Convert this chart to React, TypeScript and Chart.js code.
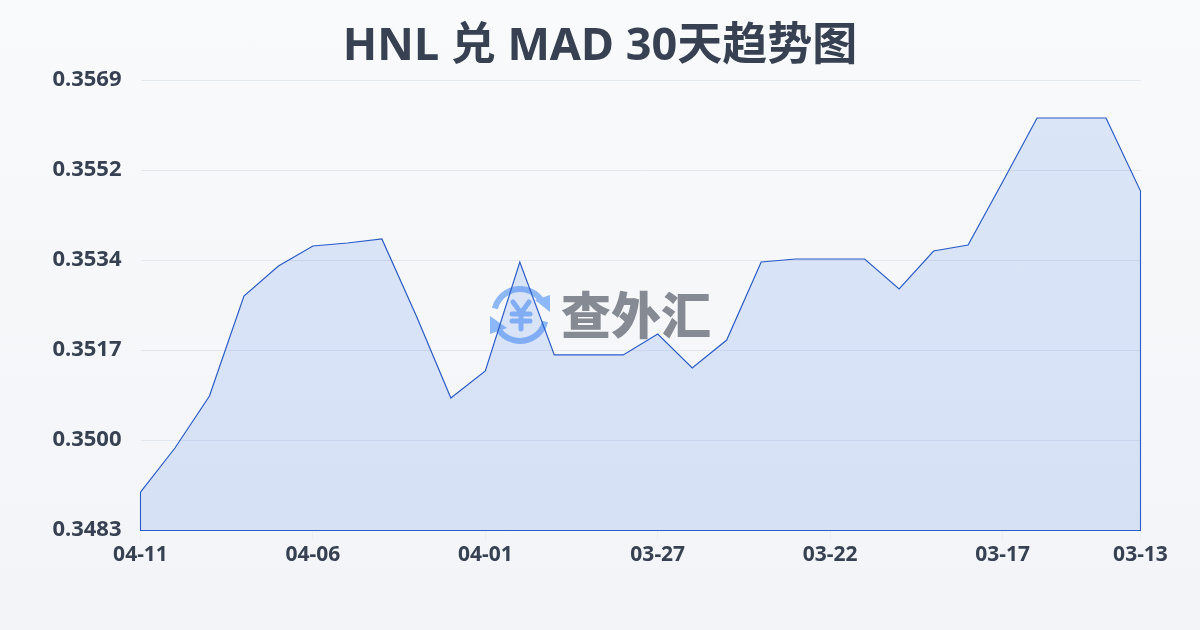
import React, { useEffect, useRef } from "react";
import { Chart, registerables } from "chart.js";

Chart.register(...registerables);

const FONT = '"Noto Sans", "Noto Sans CJK SC", sans-serif';
const titleText = "HNL 兑 MAD 30天趋势图";
const watermarkText = "查外汇";
const categories = [
  "04-11","04-10","04-09","04-08","04-07","04-06","04-05","04-04","04-03","04-02",
  "04-01","03-31","03-30","03-29","03-28","03-27","03-26","03-25","03-24","03-23",
  "03-22","03-21","03-20","03-19","03-18","03-17","03-16","03-15","03-14","03-13",
];
const rates = [
  0.349026,0.349867,0.350861,0.352772,0.353345,0.353728,0.353785,0.353861,0.35239,0.350823,
  0.351339,0.353422,0.351645,0.351645,0.351645,0.352046,0.351396,0.351931,0.353422,0.353479,
  0.353479,0.353479,0.352906,0.353632,0.353747,0.354951,0.356174,0.356174,0.356174,0.354779,
];
const yTickValues = [0.3483, 0.35002, 0.35174, 0.35346, 0.35518, 0.3569];
const yTickLabels = ["0.3483", "0.3500", "0.3517", "0.3534", "0.3552", "0.3569"];
const xTickLabels = ["04-11", "04-06", "04-01", "03-27", "03-22", "03-17", "03-13"];

const LINE = "#2a5cc6";

const watermark = {
  id: "watermark",
  beforeDatasetsDraw(chart: any) {
    const { ctx } = chart;
    ctx.save();
    const cx = 520, cy = 315, r = 26;
    ctx.strokeStyle = "#8db8f7";
    ctx.fillStyle = "#8db8f7";
    ctx.lineWidth = 6;
    ctx.beginPath();
    ctx.arc(cx, cy, r, Math.PI * 1.08, Math.PI * 1.8);
    ctx.stroke();
    ctx.beginPath();
    ctx.arc(cx, cy, r, Math.PI * 0.08, Math.PI * 0.8);
    ctx.stroke();
    ctx.beginPath();
    ctx.moveTo(535, 300); ctx.lineTo(550, 295); ctx.lineTo(550, 312); ctx.closePath();
    ctx.fill();
    ctx.beginPath();
    ctx.moveTo(490, 316); ctx.lineTo(490, 334); ctx.lineTo(507, 328); ctx.closePath();
    ctx.fill();
    ctx.lineWidth = 5;
    ctx.lineCap = "round";
    ctx.beginPath();
    ctx.moveTo(513, 302); ctx.lineTo(521, 313); ctx.lineTo(529, 302);
    ctx.moveTo(521, 313); ctx.lineTo(521, 329);
    ctx.moveTo(512, 314); ctx.lineTo(530, 314);
    ctx.moveTo(512, 321); ctx.lineTo(530, 321);
    ctx.stroke();
    ctx.fillStyle = "#858a93";
    ctx.font = `900 50px "Noto Sans CJK SC", sans-serif`;
    ctx.textAlign = "left";
    ctx.textBaseline = "middle";
    ctx.fillText(watermarkText, 561, 315);
    ctx.restore();
  },
};

const closeArea = {
  id: "closeArea",
  afterDatasetsDraw(chart: any) {
    const { ctx, scales } = chart;
    const x = scales.x, y = scales.y;
    const last = rates.length - 1;
    const base = y.getPixelForValue(yTickValues[0]);
    ctx.save();
    ctx.strokeStyle = LINE;
    ctx.lineWidth = 1.1;
    ctx.beginPath();
    ctx.moveTo(x.getPixelForValue(0), y.getPixelForValue(rates[0]));
    ctx.lineTo(x.getPixelForValue(0), base + 0.5);
    ctx.lineTo(x.getPixelForValue(last), base + 0.5);
    ctx.lineTo(x.getPixelForValue(last), y.getPixelForValue(rates[last]));
    ctx.stroke();
    ctx.restore();
  },
};

export default function App() {
  const ref = useRef<HTMLCanvasElement>(null);
  useEffect(() => {
    document.body.style.margin = "0";
    const chart = new Chart(ref.current!, {
      type: "line",
      data: {
        labels: categories,
        datasets: [
          {
            data: rates,
            borderColor: LINE,
            borderWidth: 1.2,
            backgroundColor: "rgba(59,117,235,0.15)",
            fill: "start",
            tension: 0,
            pointRadius: 0,
          },
        ],
      },
      plugins: [watermark, closeArea],
      options: {
        responsive: false,
        animation: false,
        layout: { padding: 0 },
        plugins: {
          legend: { display: false },
          tooltip: { enabled: false },
          title: {
            display: true,
            text: titleText,
            color: "#374151",
            font: { family: FONT, size: 45, weight: "700", lineHeight: 1.2 },
            padding: { top: 20, bottom: 6 },
          },
        },
        scales: {
          x: {
            type: "category",
            offset: false,
            border: { display: false },
            grid: {
              display: true,
              drawOnChartArea: false,
              drawTicks: true,
              tickLength: 10,
              tickWidth: 1,
              tickColor: (c: any) =>
                xTickLabels.includes(categories[c.index]) ? "#eceef1" : "rgba(0,0,0,0)",
            },
            afterFit(s: any) { s.height = 100; },
            ticks: {
              autoSkip: false,
              maxRotation: 0,
              padding: 2,
              color: "#374151",
              font: { family: FONT, size: 21, weight: "700" },
              callback(_: any, i: number) {
                const l = categories[i];
                return xTickLabels.includes(l) ? l : "";
              },
            },
          },
          y: {
            min: yTickValues[0],
            max: yTickValues[yTickValues.length - 1],
            border: { display: false },
            grid: { color: "#e3e7ee", lineWidth: 1, drawTicks: false },
            afterFit(s: any) { s.width = 140.5; },
            afterBuildTicks(s: any) { s.ticks = yTickValues.map((value) => ({ value })); },
            ticks: {
              padding: 19,
              color: "#374151",
              font: { family: FONT, size: 22, weight: "700" },
              callback(_: any, i: number) { return yTickLabels[i]; },
            },
          },
          rightGutter: {
            type: "linear",
            position: "right",
            border: { display: false },
            grid: { display: false, drawTicks: false },
            ticks: { display: false },
            afterFit(s: any) { s.width = 59.5; },
          },
        },
      },
    } as any);
    return () => chart.destroy();
  }, []);
  return (
    <div style={{ position: "fixed", left: 0, top: 0, width: 1200, height: 630, background: "linear-gradient(180deg,#f8fafc 0%,#f2f4f7 100%)" }}>
      <canvas ref={ref} width={1200} height={630} style={{ display: "block" }} />
    </div>
  );
}
